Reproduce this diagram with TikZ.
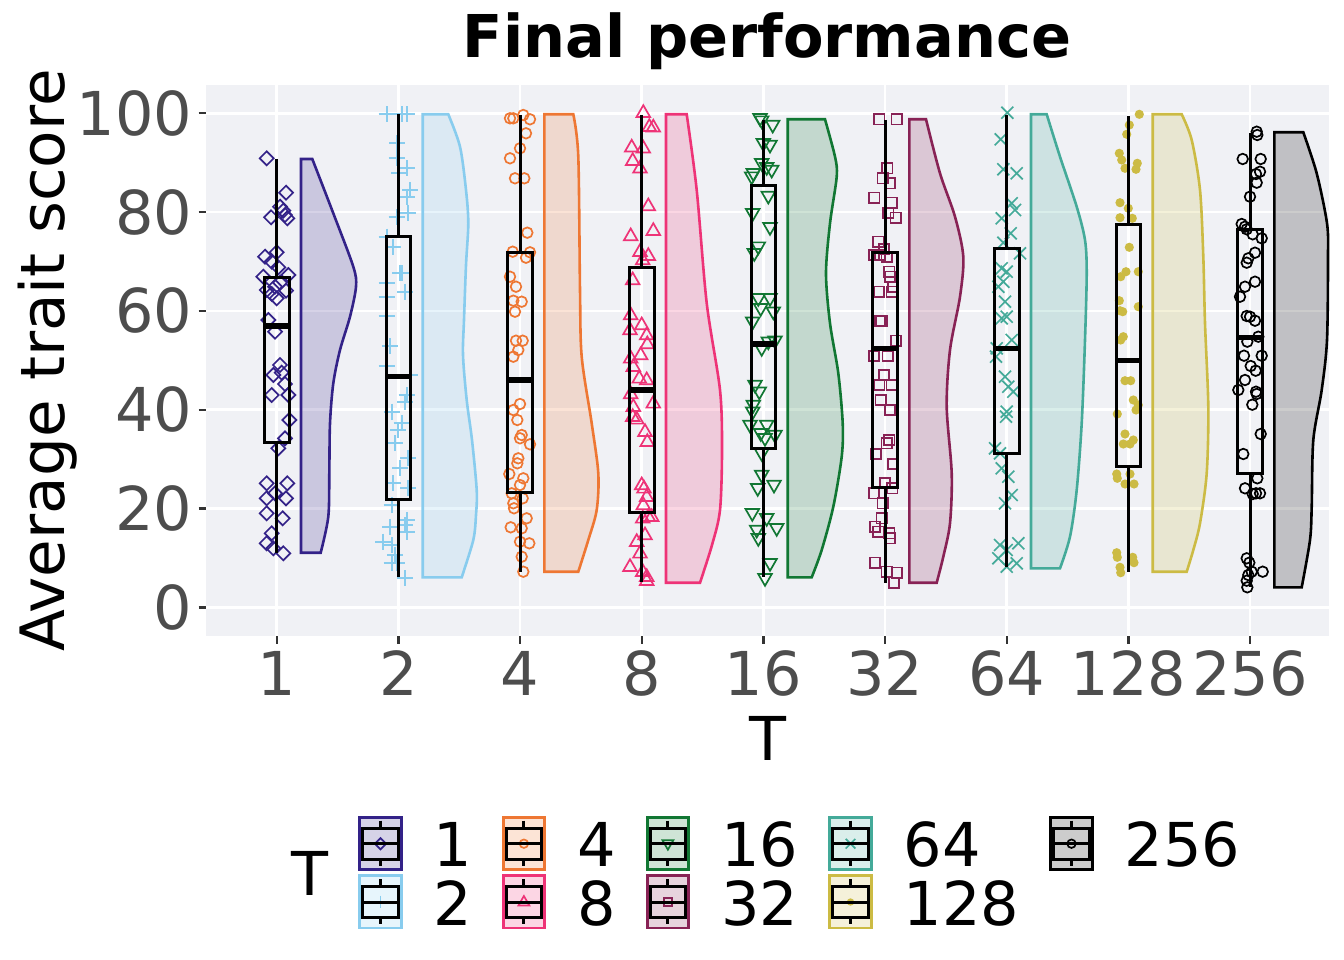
\documentclass[tikz,border=0pt]{standalone}
\usepackage{fontspec}
\setmainfont{DejaVu Sans}
\usetikzlibrary{calc}
\definecolor{col1}{HTML}{332288}
\definecolor{col2}{HTML}{88CCEE}
\definecolor{col4}{HTML}{EE7733}
\definecolor{col8}{HTML}{EE3377}
\definecolor{col16}{HTML}{117733}
\definecolor{col32}{HTML}{882255}
\definecolor{col64}{HTML}{44AA99}
\definecolor{col128}{HTML}{CCBB44}
\definecolor{col256}{HTML}{000000}
\definecolor{panelbg}{RGB}{240,241,245}
\definecolor{axisgrey}{HTML}{4D4D4D}
\definecolor{tickgrey}{HTML}{333333}

\tikzset{
  pics/mdiam/.style={code={\draw (0,-7) -- (7,0) -- (0,7) -- (-7,0) -- cycle;}},
  pics/mplus/.style={code={\draw (-8,0) -- (8,0) (0,-8) -- (0,8);}},
  pics/mcirc/.style={code={\draw (0,0) circle (5.3);}},
  pics/mtri/.style={code={\draw (0,-7.5) -- (6.8,4.3) -- (-6.8,4.3) -- cycle;}},
  pics/mtrid/.style={code={\draw (0,7.5) -- (6.8,-4.3) -- (-6.8,-4.3) -- cycle;}},
  pics/msq/.style={code={\draw (-5.2,-5.2) rectangle (5.2,5.2);}},
  pics/mx/.style={code={\draw (-6,-6) -- (6,6) (-6,6) -- (6,-6);}},
  pics/mdot/.style={code={\fill (0,0) circle (4.6);}}
}

\begin{document}
\begin{tikzpicture}[x=1pt, y=-1pt,
    every node/.style={inner sep=0pt, font=\fontsize{60.5}{72}\selectfont},
    grid/.style={white, line width=2.7pt},
    tk/.style={tickgrey, line width=2.4pt},
    vio/.style={#1, fill=#1, fill opacity=0.2, line width=2.6pt},
    pt/.style={#1, line width=1.7pt},
    bx/.style={black, line width=3pt},
    med/.style={black, line width=5.5pt},
    key/.style={#1, fill=#1!20, line width=2.8pt}]
    \useasboundingbox (0,0) rectangle (1344,960);
    \fill[white] (0,0) rectangle (1344,960);

    % panel and grid
    \fill[panelbg] (205.7,85) rectangle (1329,636);
    \foreach \gy in {113.3,212.1,310.9,409.7,508.5,607.3} {
        \draw[grid] (205.7,\gy) -- (1329,\gy);
    }
    \foreach \gx in {276.7,398.3,520,641.7,763.3,885,1006.7,1128.3,1250} {
        \draw[grid] (\gx,85) -- (\gx,636);
    }

    % axes
    \foreach \v/\gy in {0/607.3,20/508.5,40/409.7,60/310.9,80/212.1,100/113.3} {
        \draw[tk] (198.5,\gy) -- (205.7,\gy);
        \node[axisgrey, anchor=east] (ytick\v) at (192.5,\gy) {\v};
    }
    \foreach \t/\gx in {1/276.7,2/398.3,4/520,8/641.7,16/763.3,32/885,64/1006.7,128/1128.3,256/1250} {
        \draw[tk] (\gx,636) -- (\gx,643.5);
        \node[axisgrey, anchor=base] (xtick\t) at (\gx,695) {\t};
    }
    \node[anchor=base] (xlab) at (767.8,760) {T};
    \node[rotate=90, anchor=base, font=\fontsize{61.2}{72}\selectfont] (ylab) at (64,360.5) {Average trait score};
    \node[anchor=base, font=\fontsize{59}{70}\selectfont\bfseries] (title) at (767,58) {Final performance};

    % violins
    \draw[vio=col1] (301,159) -- plot[smooth] coordinates {(312.3,159) (333.3,213.3) (353.3,266.7) (356,286.7) (350,316.7) (340,350) (333.3,383.3) (330,423.3) (329.3,473.3) (328.3,516.7) (320.7,552.7)} -- (301,552.7) -- cycle;
    \draw[vio=col2] (422.7,114.3) -- plot[smooth] coordinates {(448.3,114.3) (460,146.7) (466,190) (468.3,223.3) (466,265) (464,320) (463,355) (466.7,400) (472,440) (476.7,490) (476,515) (473.3,540) (461.7,577.3)} -- (422.7,577.3) -- cycle;
    \draw[vio=col4] (544.3,114.3) -- plot[smooth] coordinates {(573.3,114.3) (578.3,156.7) (580,290) (581.7,356.7) (591.7,423.3) (598.3,473.3) (596.7,510) (588.3,540) (578.3,571.7)} -- (544.3,571.7) -- cycle;
    \draw[vio=col8] (666,114.3) -- plot[smooth] coordinates {(686.7,114.3) (696.7,190) (706.7,303) (720,390) (722,450) (720,510) (712,545) (700,582.7)} -- (666,582.7) -- cycle;
    \draw[vio=col16] (787.7,119.3) -- plot[smooth] coordinates {(825,119.3) (835,156.7) (836.7,176.7) (830,223.3) (826,273.3) (830,323.3) (838.3,373.3) (842.7,423.3) (841.7,456.7) (833.3,506.7) (821.7,550) (811.7,577.3)} -- (787.7,577.3) -- cycle;
    \draw[vio=col32] (909.3,119.3) -- plot[smooth] coordinates {(926,119.3) (940,173.3) (955,216.7) (963.3,256.7) (960,296.7) (950,350) (946.7,406.7) (951.7,473.3) (950,523.3) (943.3,556.7) (936.7,582.7)} -- (909.3,582.7) -- cycle;
    \draw[vio=col64] (1031,114.3) -- plot[smooth] coordinates {(1046.7,114.3) (1060,156.7) (1076.7,206.7) (1085,240) (1086.7,273.3) (1085,340) (1081.7,423.3) (1076.7,490) (1070,536.7) (1060,568.3)} -- (1031,568.3) -- cycle;
    \draw[vio=col128] (1152.7,114.3) -- plot[smooth] coordinates {(1181.7,114.3) (1191.7,140) (1200,190) (1203.3,256.7) (1205,323.3) (1208.3,406.7) (1206.7,473.3) (1200,523.3) (1193.3,550) (1186.7,571.7)} -- (1152.7,571.7) -- cycle;
    \draw[vio=col256] (1274.3,132.3) -- plot[smooth] coordinates {(1303.3,132.3) (1316.7,173.3) (1327,223.3) (1328,256.7) (1327,340) (1321.7,390) (1313.3,440) (1311.7,506.7) (1310,540) (1301.7,587.3)} -- (1274.3,587.3) -- cycle;

    % points
    \foreach \p in {(266.7,158.3),(286,192.7),(280,206.7),(283.3,210.7),(271,217.3),(287.3,218.3),(285,215),(276.7,252.3),(265,256.7),(271.7,261.7),(278.3,267.3),(288.3,275),(263.3,276.7),(280,282.7),(266.7,290),(271.7,294),(276.7,298.3),(286,290.7),(275,286.7),(268.3,320),(275,331.7),(280,365),(273.3,375),(281.7,372.7),(285,384),(271.7,395),(288.3,395),(289.3,420),(285,438.3),(278.3,448.3),(266.7,483.3),(287.3,483.3),(275,493.3),(266.7,498.3),(286,498.3),(266.7,513.3),(282.7,518.3),(271.7,533.3),(266.7,543.3),(273.3,548.3),(283.3,553.3)}
        \path \p pic[pt=col1] {mdiam};
    \foreach \p in {(386.7,114.3),(401.7,114.3),(406.7,114.3),(397.3,143.3),(396.7,158.3),(406.7,168.3),(399.3,173.3),(410,190),(406.7,196.7),(408.3,212.7),(396.7,216.7),(386.7,236.7),(393.3,246.7),(400,272.7),(401.7,273.3),(386.7,283.3),(405,291.7),(386.7,296.7),(386.7,316),(390,346),(386.7,366),(410,375),(406.7,395),(405,401.7),(391.7,411.7),(401.7,423.3),(398.3,430),(395,443.3),(408.3,458.3),(400,468.3),(393.3,483.3),(408.3,488.3),(391.7,505),(406.7,520),(405,525),(406.7,531.7),(390,526.7),(383.3,541.7),(391.7,545),(395,555),(391.7,563.3),(405,578.3),(396.7,563.3)}
        \path \p pic[pt=col2] {mplus};
    \foreach \p in {(510,118.3),(513.3,118.3),(523.3,115),(530,119.3),(526,133.3),(520,148.3),(510,158.3),(515,178.3),(524.3,178.3),(527.3,232.7),(512.7,251.7),(530,252.3),(526,257.7),(510,276.7),(516,286.7),(513.3,300.7),(521.7,301.7),(515,311.7),(516,340.7),(522.7,340.7),(518.3,350),(513.3,356.7),(520,404),(513.3,410),(517.3,420),(521.7,435),(520,438.3),(530,444.3),(518.3,458.3),(517.3,463.3),(509.3,474),(523.3,478.3),(520,485),(511.7,493.3),(522.7,498.3),(513.3,503.3),(514,508.3),(526.7,518.3),(510.7,527.3),(521.7,528.3),(520,541.7),(529.3,543.3),(521.7,556.7),(523.3,571.7)}
        \path \p pic[pt=col4] {mcirc};
    \foreach \p in {(643.3,112.7),(649.3,126.7),(653.3,127.3),(631.7,147.3),(643.3,148.3),(632.7,160.7),(640,168.3),(648.3,206),(630.7,236),(653.3,230.7),(640,251.7),(648.3,255.7),(642.7,260),(632.7,280),(630.7,315),(641.7,325),(630,330),(646.7,335),(647.3,344),(640.7,355),(630.7,358.3),(633.3,366.7),(639.3,378.3),(646.7,380),(653.3,403.3),(630.7,394),(633.3,406.7),(632.7,416.7),(636.7,419.3),(645,431.7),(647.3,441.7),(641.7,485),(644,488.3),(646.7,496.7),(643.3,505),(648.3,516.7),(651.7,516.7),(642.7,518.3),(645,535),(636.7,541.7),(640,553.3),(630,566.7),(642.7,571.7),(646.7,576.7),(646.7,580.7)}
        \path \p pic[pt=col8] {mtri};
    \foreach \p in {(760,118.3),(761.7,120.7),(772.7,125),(763.3,143.3),(770,145),(761.7,163.3),(766.7,167.3),(753.3,173.3),(771.7,170),(751.7,176.7),(768.3,196),(752.7,213.3),(770,227.3),(758.3,246.7),(754.3,253.3),(758.3,298.3),(770,298.3),(760.7,308.3),(773.3,311.7),(752.7,321.7),(768.3,341.7),(775,340.7),(761.7,348.3),(755,385),(759.3,391.7),(753.3,405),(752.7,411.7),(750,425),(766.7,425),(760.7,433.3),(775,435),(765,438.3),(761.7,453.3),(761.7,475),(757.7,488.3),(774,485),(752.3,513.3),(766.7,518.3),(756.7,530),(776.7,528.3),(758.3,538.3),(770,563.3),(765,578.3)}
        \path \p pic[pt=col16] {mtrid};
    \foreach \p in {(879.3,119.3),(896.7,119.3),(887.3,168.3),(882.7,178.3),(890,183.3),(874.3,197.7),(891.7,202.7),(888.3,212.7),(895.7,217.7),(878.3,241.7),(874,255),(880,255),(886.7,256.7),(884,249.3),(889.3,271.7),(890,276.7),(893.3,286.7),(879,291.7),(891.7,291.7),(881.7,321),(880,321),(896,340.7),(874,356),(887.7,356),(884,375),(879.3,385),(891.7,385),(880.7,400),(890,410),(889.3,440),(886.7,443.3),(876,454),(893.3,464),(885,483.3),(892.3,488.3),(874,493.3),(882.7,503.3),(881.7,518.3),(875,526.7),(878.3,531.7),(889.3,533.3),(890,538.3),(875,562.7),(886.7,571.7),(896.7,572.7),(894,582.7)}
        \path \p pic[pt=col32] {msq};
    \foreach \p in {(1007.3,112.7),(1000.7,139.3),(1003.3,169.3),(1016.7,173.3),(1011.7,203.3),(1015,210),(1001.7,218.3),(1010.7,233.3),(1003.3,242.7),(1020,253.3),(1001.7,268.3),(1006.7,271.7),(1003.3,281.7),(998.3,286.7),(1005,301.7),(1001.7,318.3),(1006.7,316.7),(1011.7,340),(996.7,348.3),(996,356.7),(1005,376.7),(1008.3,386.7),(1013.3,391.7),(1006.7,411.7),(1006,416.7),(995,448.3),(1000,453.3),(1001.7,468.3),(1008.3,476.7),(1011.7,495),(1005,503.3),(1000,545),(1006.7,550),(1018.3,543.3),(998.3,558.3),(1016.7,563.3),(1006.7,566.7)}
        \path \p pic[pt=col64] {mx};
    \foreach \p in {(1139.3,114.3),(1129.3,125),(1126.7,134.3),(1119.3,153.3),(1121.7,160),(1137.3,163.3),(1125,168.3),(1136,169.3),(1120,202.7),(1128.3,208.3),(1120,217.7),(1132.3,218.3),(1129.3,247.3),(1126,271.7),(1120.7,276.7),(1138.3,271.7),(1119.3,300.7),(1138.3,306.7),(1120,310.7),(1122.7,311.7),(1123.3,336.7),(1120.7,340),(1125,380.7),(1130.7,380.7),(1133.3,400),(1138.3,405),(1117.3,414),(1136,410),(1125,434),(1123.3,444),(1133.3,440),(1130,444),(1116.7,474),(1130,474),(1117.3,478.3),(1125,484),(1134,484),(1116.7,552.7),(1117.3,557.3),(1132.7,557.3),(1134,562.7),(1120,567.3),(1120.7,572.7)}
        \path \p pic[pt=col128] {mdot};
    \foreach \p in {(1256.7,131.7),(1257.3,135),(1242.7,159),(1260.7,159),(1260,171.7),(1256,174),(1256.7,182.7),(1250,196.7),(1241.7,224),(1245,226.7),(1246.7,229.3),(1252.7,234.3),(1261.7,238.3),(1255,252.7),(1248.3,258.3),(1246.7,262.7),(1255,281.7),(1245,286.7),(1240,296.7),(1246.7,316),(1250,316.7),(1255,320.7),(1258.3,336.7),(1247.3,341.7),(1244,355.7),(1261.7,355.7),(1250.7,366),(1255.7,370.7),(1245,380),(1238.3,390),(1256,391.7),(1256.7,394),(1252.3,404.7),(1260.7,434),(1243.3,454),(1257.3,478.3),(1245,488.3),(1256,493.3),(1260,493.3),(1252.7,494),(1246.7,558.3),(1249.3,562.7),(1251.7,571.7),(1262.7,571.7),(1248.3,575),(1246.7,580.7),(1247.3,587.3)}
        \path \p pic[pt=col256] {mcirc};

    % boxplots
    \foreach \gx/\wt/\wb/\qt/\qb/\md in {276.7/159/552.7/277/442.7/326, 398.3/114.3/577.3/237/499.3/376.7, 520/115/571.7/252.3/492.7/380, 641.7/115/582/267.3/512.7/390, 763.3/120/576.7/186/448.3/344, 885/120/582.5/252.3/487.7/348.3, 1006.7/115/566.7/248.3/453.3/348.3, 1128.3/116/571.7/225/466.7/360.7, 1250/133.3/587/230/473.3/337.3} {
        \draw[bx] (\gx,\wt) -- (\gx,\qt) (\gx,\qb) -- (\gx,\wb);
        \draw[bx] (\gx-12.3,\qt) rectangle (\gx+12.3,\qb);
        \draw[med] (\gx-12.3,\md) -- (\gx+12.3,\md);
    }

    % legend
    \node[anchor=base] (legtitle) at (310,895) {T};
    \foreach \c/\lab/\kx/\ky/\mk in {col1/1/358.3/815.7/mdiam, col2/2/358.3/874/mplus, col4/4/501.7/815.7/mcirc, col8/8/501.7/874/mtri, col16/16/645.7/815.7/mtrid, col32/32/645.7/874/msq, col64/64/828.3/815.7/mx, col128/128/828.3/874/mdot, col256/256/1049.3/815.7/mcirc} {
        \draw[key=\c] (\kx+1.4,\ky+1.4) rectangle (\kx+43,\ky+53.9);
        \path (\kx+22.2,\ky+28) pic[pt=\c, scale=0.8] {\mk};
        \draw[bx] (\kx+22.2,\ky+5) -- (\kx+22.2,\ky+12.6) (\kx+22.2,\ky+43.6) -- (\kx+22.2,\ky+50.3);
        \draw[bx] (\kx+4.3,\ky+12.6) rectangle (\kx+40.1,\ky+43.6);
        \draw[bx] (\kx+4.3,\ky+28) -- (\kx+40.1,\ky+28);
        \node[anchor=base west] (lab\lab) at (\kx+75.4,\ky+51) {\lab};
    }
\end{tikzpicture}
\end{document}
